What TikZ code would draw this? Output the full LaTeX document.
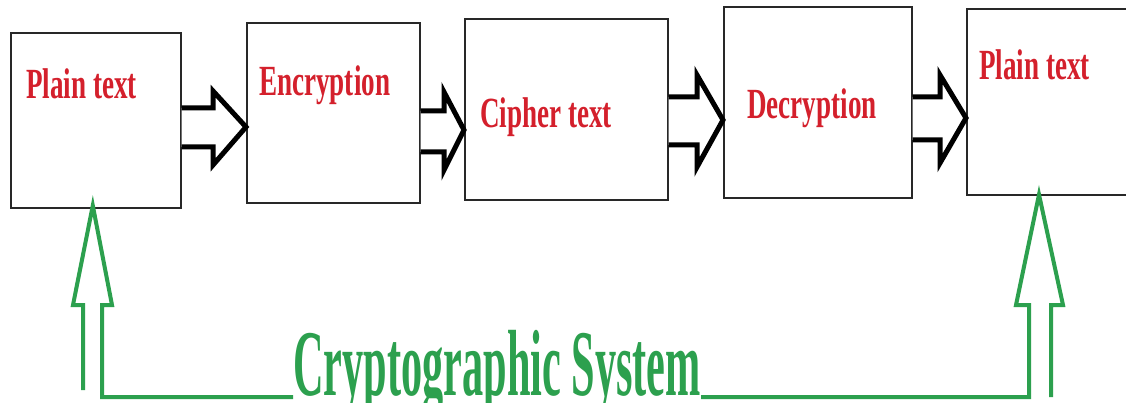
\documentclass[tikz,border=0pt]{standalone}
\usepackage{fontspec}
\setmainfont{Liberation Serif}
\usepackage{graphicx}
\usetikzlibrary{calc}
\definecolor{labelred}{RGB}{212,32,44}
\definecolor{sysgreen}{RGB}{44,160,78}
\definecolor{boxline}{RGB}{40,40,40}
\tikzset{
  stagebox/.style={draw=boxline, line width=1.6pt, minimum width=#1, inner sep=0pt, anchor=north west},
  stagelabel/.style={text=labelred, inner sep=0pt, anchor=base west,
    font=\bfseries\fontsize{43}{43}\selectfont},
  flowarrow/.style={draw=black, line width=5pt, line join=miter, fill=white},
  sysarrow/.style={draw=sysgreen, line width=4pt, line join=miter},
  syslabel/.style={text=sysgreen, inner sep=0pt, anchor=base west,
    font=\bfseries\fontsize{94}{94}\selectfont},
}
% hollow block arrow between two boxes:
% #1 from, #2 to, #3/#4 shaft top/bottom, #5/#6 head top/bottom, #7 tip y, #8 neck x
\newcommand\blockarrow[8]{%
  \draw[flowarrow] (#1.east |- 0,#3) -- (#8,#3) -- (#8,#5) -- (#2.west |- 0,#7)
    -- (#8,#6) -- (#8,#4) -- (#1.east |- 0,#4);}
\begin{document}
\begin{tikzpicture}[x=1pt, y=-1pt]
\useasboundingbox (0,0) rectangle (1126,403);
\clip (0,0) rectangle (1126,403);
\fill[white] (0,0) rectangle (1126,403);

% the five stages
\node[stagebox=170pt, minimum height=175pt] (b1) at (10,32) {};
\node[stagebox=173pt, minimum height=180pt] (b2) at (246,22) {};
\node[stagebox=203pt, minimum height=181pt] (b3) at (464,18) {};
\node[stagebox=188pt, minimum height=191pt] (b4) at (723,6) {};
\node[stagebox=180pt, minimum height=186pt] (b5) at (966,8) {};

\node[stagelabel] (t1) at (26,99)  {\scalebox{0.63}[1]{Plain text}};
\node[stagelabel] (t2) at (259,96) {\scalebox{0.63}[1]{Encryption}};
\node[stagelabel] (t3) at (480,128) {\scalebox{0.63}[1]{Cipher text}};
\node[stagelabel] (t4) at (747,119) {\scalebox{0.63}[1]{Decryption}};
\node[stagelabel] (t5) at (979,80) {\scalebox{0.63}[1]{Plain text}};

% flow between the stages
\blockarrow{b1}{b2}{108}{147}{91}{165}{127}{213}
\blockarrow{b2}{b3}{111}{152}{92}{170}{130}{444}
\blockarrow{b3}{b4}{97}{145}{75}{167}{120}{697}
\blockarrow{b4}{b5}{97}{140}{75}{163}{118}{940}

% the system bracket
\node[syslabel] (cs) at (293,395) {\scalebox{0.45}[1]{Cryptographic System}};
\coordinate (ltip) at ($(b1.south)+(-3,-3)$);
\coordinate (rtip) at ($(b5.south west)+(73,-1)$);
\draw[sysarrow] (83,390) -- (83,305) -- (73,305) -- (ltip) -- (112,305)
  -- (102,305) -- (102,397) -- (cs.west |- 0,397);
\draw[sysarrow] (cs.east |- 0,397) -- (1029,397) -- (1029,305) -- (1016,305)
  -- (rtip) -- (1063,305) -- (1051,305) -- (1051,397);
\end{tikzpicture}
\end{document}
